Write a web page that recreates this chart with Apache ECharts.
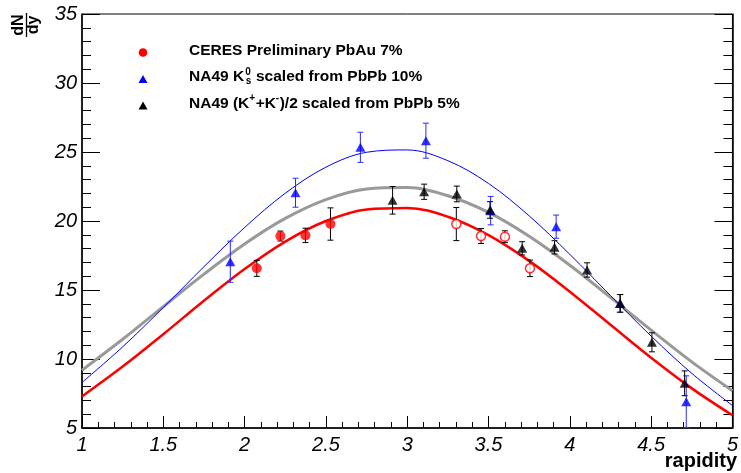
<!DOCTYPE html>
<html><head><meta charset="utf-8">
<script src="https://cdn.jsdelivr.net/npm/echarts@6/dist/echarts.min.js"></script>
<style>html,body{margin:0;padding:0;background:#fff}#c{width:741px;height:473px}</style>
</head><body><div id="c"></div>
<script>
// ---- data ----
const xTicks = [1, 1.5, 2, 2.5, 3, 3.5, 4, 4.5, 5];
const yTicks = [5, 10, 15, 20, 25, 30, 35];

// fit curves
const curveX     = [1, 1.25, 1.5, 1.75, 2, 2.25, 2.5, 2.75, 3, 3.25, 3.5, 3.75, 4, 4.25, 4.5, 4.75, 5];
const ceresCurve = [7.29, 9.45, 11.80, 14.22, 16.52, 18.51, 20.00, 20.84, 20.95, 20.31, 18.98, 17.11, 14.88, 12.48, 10.09, 7.87, 5.92];
const k0sCurve   = [8.30, 10.88, 13.73, 16.69, 19.53, 22.01, 23.90, 24.98, 25.15, 24.37, 22.72, 20.37, 17.58, 14.60, 11.66, 8.96, 6.63];
const kchCurve   = [9.19, 11.43, 13.80, 16.15, 18.34, 20.19, 21.55, 22.32, 22.42, 21.83, 20.62, 18.89, 16.79, 14.46, 12.09, 9.79, 7.70];

// CERES preliminary (filled) and reflected (open)
const ceresX   = [2.075, 2.22, 2.374, 2.528];
const ceresY   = [16.57, 18.91, 18.96, 19.78];
const ceresErr = [0.58, 0.36, 0.52, 1.17];
const ceresReflX   = [3.302, 3.454, 3.601, 3.755];
const ceresReflY   = [19.78, 18.91, 18.86, 16.57];
const ceresReflErr = [1.2, 0.54, 0.43, 0.6];

// NA49 K0s scaled
const k0sX   = [1.912, 2.313, 2.712, 3.115, 3.513, 3.916, 4.307, 4.716];
const k0sY   = [17.05, 22.05, 25.34, 25.82, 20.75, 19.59, 14.03, 6.91];
const k0sErr = [1.49, 1.05, 1.09, 1.27, 1.03, 0.84, 0.64, 1.87];

// NA49 (K+ + K-)/2 scaled
const kchX   = [2.91, 3.104, 3.305, 3.509, 3.707, 3.906, 4.106, 4.311, 4.505, 4.706];
const kchY   = [21.5, 22.12, 21.96, 20.8, 18.02, 18.09, 16.45, 14.03, 11.21, 8.24];
const kchErr = [1.0, 0.55, 0.57, 0.6, 0.48, 0.48, 0.52, 0.64, 0.69, 0.9];

// ---- build ----
const zip = (xs, ys) => xs.map((x, i) => [x, ys[i]]);
const zip3 = (xs, ys, es) => xs.map((x, i) => [x, ys[i], es[i]]);

function errSeries(data, color) {
  return {
    type: 'custom', data: data, z: 3, silent: true,
    renderItem: function (params, api) {
      const x = api.value(0), y = api.value(1), e = api.value(2);
      const hi = api.coord([x, y + e]), lo = api.coord([x, y - e]);
      const cx = hi[0], w = 3;
      const st = { stroke: color, lineWidth: 1 };
      return { type: 'group', children: [
        { type: 'line', shape: { x1: cx, y1: hi[1], x2: cx, y2: lo[1] }, style: st },
        { type: 'line', shape: { x1: cx - w, y1: hi[1], x2: cx + w, y2: hi[1] }, style: st },
        { type: 'line', shape: { x1: cx - w, y1: lo[1], x2: cx + w, y2: lo[1] }, style: st }
      ]};
    }
  };
}

const FONT = '"Liberation Sans", Arial, Helvetica, sans-serif';
const cv = document.createElement('canvas').getContext('2d');
function measure(t, font) { cv.font = font; return cv.measureText(t).width; }

// legend drawn as graphic
const LX = 189, legFont = 'bold 15.5px ' + FONT, supFont = 'bold 10px ' + FONT;
function seg(text, x, y, font) {
  return { type: 'text', x: x, y: y, style: { text: text, font: font, fill: '#000', verticalAlign: 'middle', align: 'left' } };
}
const graphics = [];
// row 1
graphics.push({ type: 'circle', shape: { cx: 143, cy: 52.5, r: 4.3 }, style: { fill: '#ff0000' } });
graphics.push(seg('CERES Preliminary PbAu 7%', LX, 50.5, legFont));
// row 2
graphics.push({ type: 'polygon', shape: { points: [[143, 75], [147.5, 83], [138.5, 83]] }, style: { fill: '#0000ff' } });
let x2 = LX;
graphics.push(seg('NA49 K', x2, 77, legFont)); x2 += measure('NA49 K', legFont) + 1;
graphics.push(seg('0', x2, 72, supFont));
graphics.push(seg('s', x2 + 0.5, 81, supFont));
x2 += measure('0', supFont) + 1;
graphics.push(seg(' scaled from PbPb 10%', x2, 77, legFont));
// row 3
graphics.push({ type: 'polygon', shape: { points: [[143, 101.5], [147.5, 109.5], [138.5, 109.5]] }, style: { fill: '#000' } });
let x3 = LX;
const row3 = [['NA49 (K', 0], ['+', 1], ['+K', 0], ['-', 1], [')/2 scaled from PbPb 5%', 0]];
row3.forEach(function (s) {
  const f = s[1] ? supFont : legFont;
  graphics.push(seg(s[0], x3, s[1] ? 98.5 : 103.5, f));
  x3 += measure(s[0], f) + (s[1] ? 0.5 : 0);
});
// y title dN/dy rotated (reads bottom to top)
const tFont = 'bold 16px ' + FONT;
graphics.push({ type: 'text', x: 19, y: 25, rotation: Math.PI / 2, originX: 0, originY: 0,
  style: { text: 'dN', font: tFont, fill: '#000', align: 'center', verticalAlign: 'middle' } });
graphics.push({ type: 'line', shape: { x1: 26.5, y1: 13, x2: 26.5, y2: 37 }, style: { stroke: '#000', lineWidth: 1.3 } });
graphics.push({ type: 'text', x: 34, y: 25, rotation: Math.PI / 2, originX: 0, originY: 0,
  style: { text: 'dy', font: tFont, fill: '#000', align: 'center', verticalAlign: 'middle' } });
// x title
graphics.push({ type: 'text', x: 737, y: 461, style: { text: 'rapidity', font: 'bold 20px ' + FONT, fill: '#000', align: 'right', verticalAlign: 'middle' } });

const yAxisBase = {
  type: 'value', min: yTicks[0], max: yTicks[yTicks.length - 1], interval: yTicks[1] - yTicks[0],
  axisLine: { show: true, lineStyle: { color: '#000', width: 1.5 } },
  axisTick: { show: true, inside: true, length: 18, lineStyle: { color: '#000', width: 1 } },
  minorTick: { show: true, splitNumber: 5, length: 9, lineStyle: { color: '#000', width: 1 } },
  splitLine: { show: false }, minorSplitLine: { show: false }
};

const option = {
  animation: false,
  backgroundColor: '#fff',
  grid: { left: 82, right: 7, top: 14, bottom: 45, show: true, borderColor: '#000', borderWidth: 1, backgroundColor: 'transparent' },
  xAxis: {
    type: 'value', min: xTicks[0], max: xTicks[xTicks.length - 1], interval: xTicks[1] - xTicks[0],
    axisLine: { show: true, onZero: false, lineStyle: { color: '#000', width: 1.5 } },
    axisTick: { show: true, inside: true, length: 12, lineStyle: { color: '#000', width: 1 } },
    minorTick: { show: true, splitNumber: 5, length: 6, lineStyle: { color: '#000', width: 1 } },
    splitLine: { show: false },
    axisLabel: { show: true, margin: 7, fontFamily: FONT, fontStyle: 'italic', fontSize: 20, color: '#000',
      formatter: function (v) { return String(v); }, showMinLabel: true, showMaxLabel: true }
  },
  yAxis: [
    Object.assign({}, yAxisBase, { position: 'left',
      axisLabel: { show: true, margin: 5, fontFamily: FONT, fontStyle: 'italic', fontSize: 20, color: '#000', showMinLabel: true, showMaxLabel: true } }),
    Object.assign({}, yAxisBase, { position: 'right', axisLabel: { show: false } })
  ],
  graphic: graphics,
  series: [
    { type: 'line', data: zip(curveX, kchCurve), smooth: 0.35, showSymbol: false, z: 2, lineStyle: { color: '#999999', width: 3 } },
    { type: 'line', data: zip(curveX, ceresCurve), smooth: 0.35, showSymbol: false, z: 2, lineStyle: { color: '#ff0000', width: 2.5 } },
    { type: 'line', data: zip(curveX, k0sCurve), smooth: 0.35, showSymbol: false, z: 2, lineStyle: { color: '#0000ff', width: 1 } },
    errSeries(zip3(k0sX, k0sY, k0sErr), '#2a2aff'),
    errSeries(zip3(kchX, kchY, kchErr), '#000'),
    errSeries(zip3(ceresX, ceresY, ceresErr), '#000'),
    errSeries(zip3(ceresReflX, ceresReflY, ceresReflErr), '#000'),
    { type: 'scatter', data: zip(k0sX, k0sY), symbol: 'triangle', symbolSize: [10, 9], z: 4, itemStyle: { color: '#0000ff' } },
    { type: 'scatter', data: zip(kchX, kchY), symbol: 'triangle', symbolSize: [10, 9], z: 4, itemStyle: { color: '#000' } },
    { type: 'scatter', data: zip(ceresX, ceresY), symbol: 'circle', symbolSize: 10, z: 4, itemStyle: { color: '#ff0000' } },
    { type: 'scatter', data: zip(ceresReflX, ceresReflY), symbol: 'circle', symbolSize: 9, z: 4, itemStyle: { color: '#fff', borderColor: '#ff0000', borderWidth: 1.5 } }
  ]
};
echarts.init(document.getElementById('c'), null, { renderer: 'canvas' }).setOption(option);
</script>
</body></html>
